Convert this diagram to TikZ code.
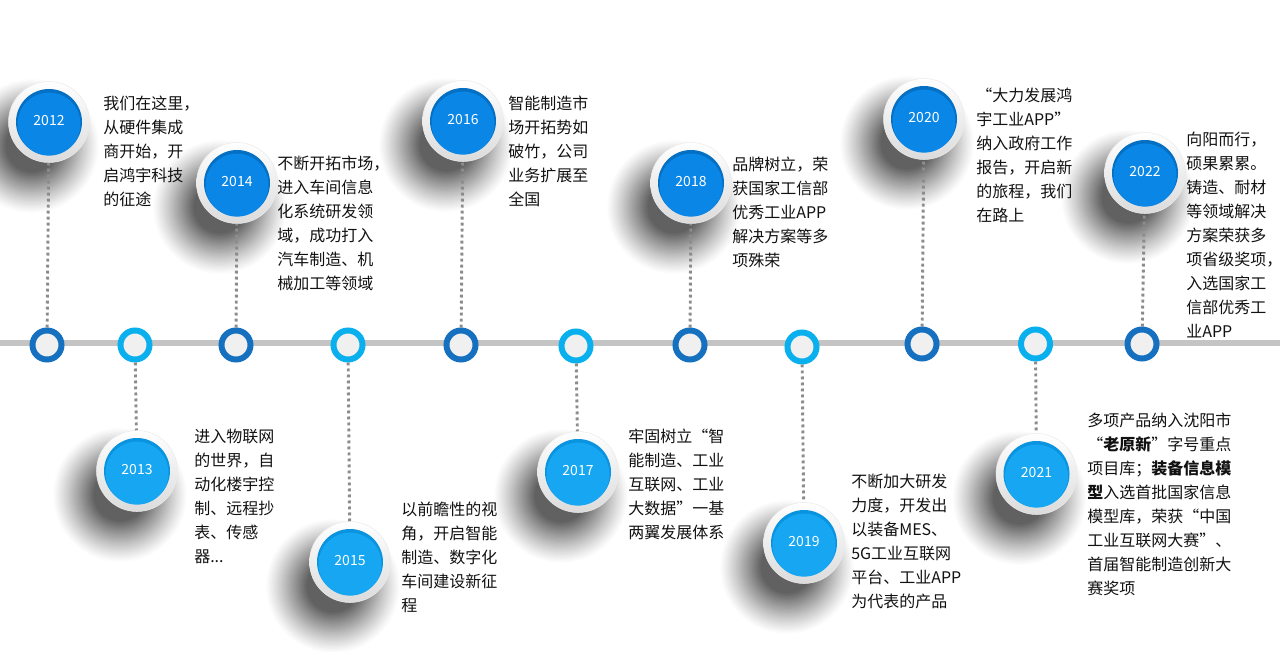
\documentclass[tikz,border=0pt]{standalone}
\usepackage{fontspec}
\setmainfont{Noto Sans CJK SC}
\definecolor{maine}{HTML}{0A86E6}
\definecolor{darke}{HTML}{0470C4}
\definecolor{maino}{HTML}{16A6F2}
\definecolor{darko}{HTML}{0A94E0}
\definecolor{ringe}{HTML}{1570BF}
\definecolor{ringo}{HTML}{0AB0EE}
\definecolor{linegray}{HTML}{C4C4C4}
\definecolor{dotgray}{HTML}{8C8C8C}
\definecolor{ringfill}{HTML}{F0F0F0}
\definecolor{txt}{HTML}{111111}
\begin{document}
\begin{tikzpicture}[x=0.75pt,y=-0.75pt,
  mainline/.style={draw=linegray,line width=4.5pt},
  dotline/.style={draw=dotgray,line width=2.2pt,dash pattern=on 2.2pt off 2.3pt},
  ring/.style={circle,inner sep=0pt,minimum size=21.75pt,line width=4.5pt,fill=ringfill},
  rim/.style={circle,inner sep=0pt,minimum size=60.75pt,top color=white,bottom color=black!14,draw=black!8,line width=0.4pt},
  yearlbl/.style={text=white,inner sep=0pt,font=\fontsize{10.5pt}{12pt}\selectfont},
  desc/.style={anchor=north west,align=left,inner sep=0pt,text=txt,font=\fontsize{12pt}{18pt}\selectfont}]
\useasboundingbox (0,0) rectangle (1280,652);
\def\ms{12/49/122/2012/e/47/345, 13/137/471/2013/o/135/345, 14/237/183/2014/e/236/345, 15/350/562/2015/o/348/345, 16/463/121/2016/e/461/345, 17/578/472/2017/o/576/346, 18/691/183/2018/e/690/345, 19/804/543/2019/o/802/347, 20/924/119/2020/e/922/344, 21/1036.5/474/2021/o/1035.5/344, 22/1145/173/2022/e/1142/344}
% soft shadows (opaque concentric fills on white)
\foreach \n/\cx/\cy/\yr/\k/\rx/\ry in \ms {
  \foreach \i in {0,...,32} {
    \pgfmathsetmacro\rr{68-1.3*\i}
    \pgfmathsetmacro\pp{62*(\i/32)^1.15}
    \fill[black!\pp] ({\cx-17},{\cy+24}) circle (\rr);
  }
}
% timeline
\coordinate (tlL) at (0,343);
\coordinate (tlR) at (1280,343);
\draw[mainline] (tlL) -- (tlR);
% milestones
\foreach \n/\cx/\cy/\yr/\k/\rx/\ry in \ms {
  \node[ring,draw=ring\k] (r\n) at (\rx,\ry) {};
  \node[rim] (y\n) at (\cx,\cy) {};
  \fill[dark\k] (y\n.center) circle (33);
  \fill[main\k] ([yshift=-1.6pt]y\n.center) circle (31.5);
  \node[yearlbl] (t\n) at ([yshift=1pt]y\n.center) {\yr};
  \draw[dotline] (r\n) -- (y\n);
}
% descriptions
\node[desc] (d12) at (103,96) {我们在这里，\\从硬件集成\\商开始，开\\启鸿宇科技\\的征途};
\node[desc] (d14) at (277,156) {不断开拓市场，\\进入车间信息\\化系统研发领\\域，成功打入\\汽车制造、机\\械加工等领域};
\node[desc] (d16) at (508,96) {智能制造市\\场开拓势如\\破竹，公司\\业务扩展至\\全国};
\node[desc] (d18) at (732,157) {品牌树立，荣\\获国家工信部\\优秀工业APP\\解决方案等多\\项殊荣};
\node[desc] (d20) at (976,88) {“大力发展鸿\\宇工业APP”\\纳入政府工作\\报告，开启新\\的旅程，我们\\在路上};
\node[desc] (d22) at (1186,132) {向阳而行，\\硕果累累。\\铸造、耐材\\等领域解决\\方案荣获多\\项省级奖项，\\入选国家工\\信部优秀工\\业APP};
\node[desc] (d13) at (194,429) {进入物联网\\的世界，自\\动化楼宇控\\制、远程抄\\表、传感\\器...};
\node[desc] (d15) at (401,502) {以前瞻性的视\\角，开启智能\\制造、数字化\\车间建设新征\\程};
\node[desc] (d17) at (628,429) {牢固树立“智\\能制造、工业\\互联网、工业\\大数据”一基\\两翼发展体系};
\node[desc] (d19) at (851,474) {不断加大研发\\力度，开发出\\以装备MES、\\5G工业互联网\\平台、工业APP\\为代表的产品};
\node[desc] (d21) at (1087,413) {多项产品纳入沈阳市\\“\textbf{老原新}”字号重点\\项目库；\textbf{装备信息模}\\\textbf{型}入选首批国家信息\\模型库，荣获“中国\\工业互联网大赛”、\\首届智能制造创新大\\赛奖项};
\end{tikzpicture}
\end{document}
